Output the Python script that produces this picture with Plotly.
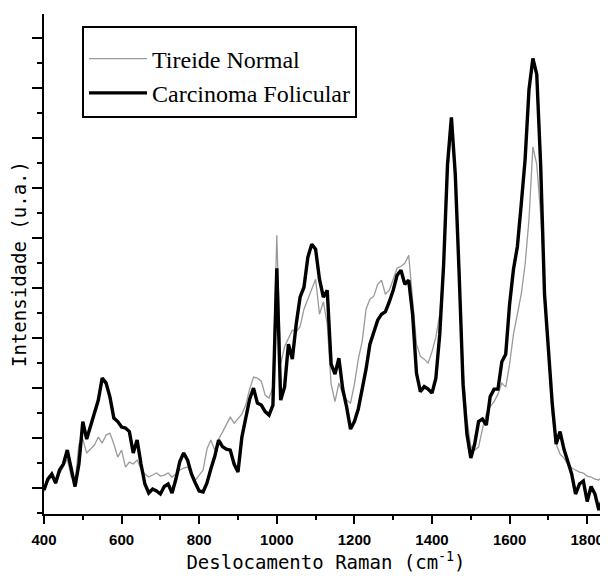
import plotly.graph_objects as go

wavenumber = list(range(400, 1851, 10))

tireide_normal = [
    45, 65, 75, 60, 80, 95, 110, 75, 62, 140,      # 400-490
    150, 122, 130, 138, 154, 142, 158, 162, 140, 114,  # 500-590
    128, 94, 104, 100, 108, 90, 80, 74, 78, 82,    # 600-690
    76, 78, 82, 74, 80, 88, 92, 94, 80, 68,        # 700-790
    78, 88, 130, 148, 128, 150, 164, 180, 194, 182,  # 800-890
    190, 200, 218, 250, 274, 272, 266, 238, 232, 254,  # 900-990
    558, 300, 335, 350, 368, 365, 375, 410, 432, 450,  # 1000-1090
    470, 400, 425, 380, 260, 225, 262, 240, 228, 222,  # 1100-1190
    260, 310, 345, 410, 430, 436, 460, 468, 440, 448,  # 1200-1290
    470, 492, 496, 502, 518, 430, 340, 316, 310, 302,  # 1300-1390
    325, 354, 400, 500, 680, 770, 690, 500, 290, 190,  # 1400-1490
    135, 128, 134, 170, 200, 215, 225, 240, 262, 254,  # 1500-1590
    300, 360, 400, 440, 500, 590, 735, 700, 600, 450,  # 1600-1690
    320, 200, 140, 120, 112, 100, 92, 88, 84, 82,    # 1700-1790
    76, 74, 70, 68, 75, 82,                          # 1800-1850
]

carcinoma_folicular = [
    48, 70, 80, 62, 88, 100, 128, 95, 55, 100,     # 400-490
    185, 150, 175, 205, 228, 272, 262, 234, 192, 185,  # 500-590
    174, 172, 165, 122, 148, 100, 60, 42, 50, 46,  # 600-690
    40, 55, 60, 42, 70, 105, 122, 108, 80, 62,     # 700-790
    46, 44, 62, 90, 115, 148, 135, 130, 128, 100,  # 800-890
    84, 154, 190, 230, 252, 222, 218, 205, 198, 218,  # 900-990
    492, 228, 254, 340, 310, 380, 434, 454, 514, 540,  # 1000-1090
    530, 470, 434, 448, 300, 280, 312, 250, 214, 170,  # 1100-1190
    185, 210, 250, 290, 340, 365, 388, 400, 405, 425,  # 1200-1290
    448, 478, 488, 460, 468, 400, 282, 245, 255, 250,  # 1300-1390
    242, 272, 360, 500, 700, 794, 680, 480, 260, 160,  # 1400-1490
    112, 140, 185, 190, 178, 235, 250, 250, 305, 320,  # 1500-1590
    420, 490, 535, 620, 710, 850, 912, 880, 700, 440,  # 1600-1690
    320, 220, 140, 165, 130, 105, 80, 40, 60, 66,   # 1700-1790
    25, 55, 40, 8, 30, 55,                          # 1800-1850
]

x_ticks = [400, 600, 800, 1000, 1200, 1400, 1600, 1800]
series_names = ["Tireide Normal", "Carcinoma Folicular"]

fig = go.Figure()
fig.add_trace(go.Scatter(x=wavenumber, y=tireide_normal, mode="lines",
                         name=series_names[0],
                         line=dict(color="#9a9a9a", width=1.3)))
fig.add_trace(go.Scatter(x=wavenumber, y=carcinoma_folicular, mode="lines",
                         name=series_names[1],
                         line=dict(color="black", width=3.4)))

# the page has an 8px body margin: figure spans 8..608 x 8..576
fig.update_layout(
    width=600, height=568,
    margin=dict(l=36, r=0, t=6, b=62, autoexpand=False),
    paper_bgcolor="white", plot_bgcolor="white",
    showlegend=True,
    legend=dict(
        x=0.0674, y=0.977, xanchor="left", yanchor="top",
        bgcolor="white", bordercolor="black", borderwidth=2,
        font=dict(family="Liberation Serif", size=24, color="black"),
        itemwidth=58, tracegroupgap=0,
        title=dict(text=" ", font=dict(size=7)),
    ),
    xaxis=dict(
        range=[400, 1853.6], tickvals=x_ticks,
        ticks="outside", ticklen=8, tickwidth=2, tickcolor="black",
        minor=dict(dtick=100, tick0=400, ticks="outside", ticklen=4,
                   tickwidth=2, tickcolor="black"),
        showline=True, linewidth=2, linecolor="black",
        showgrid=False, zeroline=False,
        tickfont=dict(family="Liberation Sans", size=15, color="black",
                      weight="bold"),
        ticklabelstandoff=3,
        title=dict(text="Deslocamento Raman (cm<sup>-1</sup>)",
                   font=dict(family="DejaVu Sans Mono", size=19,
                             color="black"),
                   standoff=9),
    ),
    xaxis2=dict(
        overlaying="x", side="top", matches="x", anchor="y",
        tickvals=x_ticks, showticklabels=False,
        ticks="inside", ticklen=9, tickwidth=2, tickcolor="black",
        minor=dict(dtick=100, tick0=400, ticks="inside", ticklen=5,
                   tickwidth=2, tickcolor="black"),
        showline=True, linewidth=2, linecolor="black",
        showgrid=False, zeroline=False,
    ),
    yaxis=dict(
        range=[0, 1001], tick0=52, dtick=100, showticklabels=False,
        ticks="outside", ticklen=10, tickwidth=2, tickcolor="black",
        minor=dict(dtick=50, tick0=52, ticks="outside", ticklen=5,
                   tickwidth=2, tickcolor="black"),
        showline=True, linewidth=2, linecolor="black",
        showgrid=False, zeroline=False,
        title=dict(text="Intensidade (u.a.)",
                   font=dict(family="DejaVu Sans Mono", size=19,
                             color="black"),
                   standoff=3),
    ),
)

fig.write_html("out.html")
